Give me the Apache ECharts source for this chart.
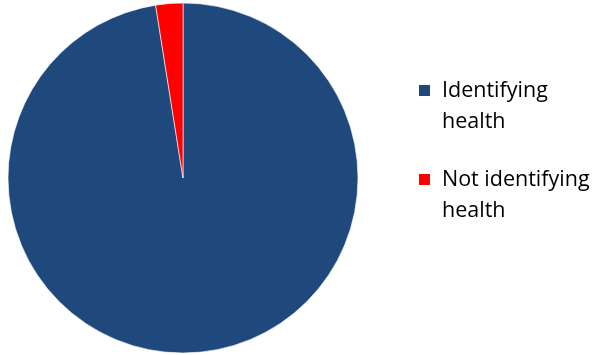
<!DOCTYPE html>
<html>
<head>
<meta charset="utf-8">
<script src="https://cdn.jsdelivr.net/npm/echarts@6/dist/echarts.min.js"></script>
<style>
  html, body { margin: 0; padding: 0; background: #fff; }
  #chart { width: 596px; height: 355px; }
</style>
</head>
<body>
<div id="chart"></div>
<script>
// Share of responses identifying health
const categories = ['Identifying\nhealth', 'Not identifying\nhealth'];
const shares = [97.5, 2.5];
const colors = ['#1F497D', '#FF0000'];

const chart = echarts.init(document.getElementById('chart'), null, { renderer: 'canvas' });

chart.setOption({
  animation: false,
  color: colors,
  legend: {
    orient: 'vertical',
    left: 412,
    top: 39,
    itemWidth: 13,
    itemHeight: 13,
    itemGap: -4,
    icon: 'rect',
    data: categories,
    // a blank first line keeps the swatch level with the first text line
    formatter: name => '\n' + name,
    textStyle: {
      fontFamily: 'Open Sans',
      fontSize: 21.5,
      lineHeight: 31,
      color: '#000',
      padding: [0, 0, 0, 6]
    }
  },
  series: [{
    type: 'pie',
    center: [183, 178],
    radius: 175,
    startAngle: 90,
    clockwise: true,
    label: { show: false },
    labelLine: { show: false },
    itemStyle: { borderColor: '#fff', borderWidth: 0.6 },
    emphasis: { disabled: true },
    data: categories.map((name, i) => ({ name, value: shares[i] }))
  }]
});
</script>
</body>
</html>
